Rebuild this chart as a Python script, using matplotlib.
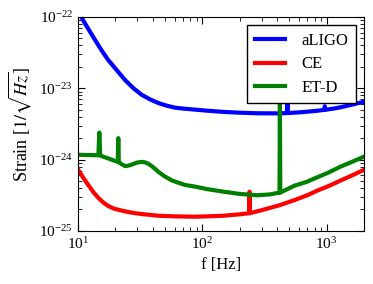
import matplotlib
matplotlib.use("Agg")
import matplotlib.pyplot as plt

plt.rcParams['font.family'] = ['Liberation Serif', 'DejaVu Serif']
plt.rcParams['mathtext.fontset'] = 'stix'
plt.rcParams['font.size'] = 11

# aLIGO
f_aligo = [10, 11, 12, 13.7, 15.5, 17.5, 20.5, 23.9, 28, 32.6, 38, 44.5, 52, 60.5, 70, 85,
           110, 148, 200, 276, 421, 478, 484, 490, 600, 698, 850, 960, 967, 975, 1100, 1285,
           1600, 2000]
h_aligo = [1.25e-22, 9.0e-23, 7.0e-23, 4.8e-23, 3.4e-23, 2.5e-23, 1.8e-23, 1.31e-23, 1.0e-23,
           8.1e-24, 7.0e-24, 6.2e-24, 5.7e-24, 5.35e-24, 5.2e-24, 5.05e-24, 4.85e-24, 4.67e-24,
           4.55e-24, 4.47e-24, 4.45e-24, 4.5e-24, 6.0e-24, 4.5e-24, 4.6e-24, 4.7e-24, 4.85e-24,
           5.0e-24, 5.6e-24, 5.0e-24, 5.15e-24, 5.4e-24, 5.9e-24, 6.5e-24]

# CE
f_ce = [10, 11, 12.1, 13.3, 14.6, 16, 17.5, 19.5, 21.8, 25, 28.8, 35, 44.5, 60, 86, 110, 148,
        200, 239, 240, 241, 300, 421, 550, 698, 850, 1018, 1300, 1600, 2000]
h_ce = [7.3e-25, 5.6e-25, 4.4e-25, 3.5e-25, 2.9e-25, 2.5e-25, 2.24e-25, 2.05e-25, 1.95e-25,
        1.85e-25, 1.77e-25, 1.7e-25, 1.63e-25, 1.6e-25, 1.58e-25, 1.6e-25, 1.63e-25, 1.71e-25,
        1.77e-25, 3.55e-25, 1.77e-25, 1.95e-25, 2.3e-25, 2.7e-25, 3.16e-25, 3.7e-25, 4.2e-25,
        5.1e-25, 6.0e-25, 7.2e-25]

# ET-D
f_et = [10, 12, 14.6, 14.85, 15.1, 16, 17.5, 19.5, 20.9, 21.1, 21.3, 22.5, 24, 26, 28, 30,
        32.6, 35, 37, 40, 44.5, 50, 57, 65, 73, 86, 110, 148, 200, 276, 350, 418, 421, 424,
        550, 698, 850, 1018, 1300, 1600, 2000]
h_et = [1.17e-24, 1.16e-24, 1.15e-24, 2.4e-24, 1.14e-24, 1.1e-24, 1.04e-24, 0.97e-24,
        0.93e-24, 2.0e-24, 0.92e-24, 0.86e-24, 0.81e-24, 0.83e-24, 0.87e-24, 0.91e-24,
        0.93e-24, 0.91e-24, 0.87e-24, 0.79e-24, 0.67e-24, 0.58e-24, 0.51e-24, 0.47e-24,
        0.44e-24, 0.42e-24, 0.385e-24, 0.355e-24, 0.33e-24, 0.316e-24, 0.325e-24, 0.345e-24,
        6.0e-24, 0.345e-24, 0.43e-24, 0.49e-24, 0.57e-24, 0.65e-24, 0.8e-24, 0.93e-24, 1.1e-24]

fig = plt.figure(figsize=(3.73, 2.84), dpi=100)
ax = fig.add_axes([0.209, 0.187, 0.767, 0.753])
ax.plot(f_aligo, h_aligo, color='blue', lw=3, label='aLIGO')
ax.plot(f_ce, h_ce, color='red', lw=3, label='CE')
ax.plot(f_et, h_et, color='green', lw=3, label='ET-D')
ax.set_xscale('log')
ax.set_yscale('log')
ax.set_xlim(10, 2000)
ax.set_ylim(1e-25, 1e-22)
ax.set_xlabel('f [Hz]', fontsize=12)
ax.set_ylabel(r'Strain [$1/\sqrt{Hz}$]', fontsize=13)
ax.tick_params(which='both', direction='in', top=True, right=True)
ax.tick_params(which='major', length=5)
ax.tick_params(which='minor', length=3)
leg = ax.legend(loc='upper right', fancybox=False, framealpha=1, edgecolor='black',
                handlelength=1.8, handletextpad=1.0, labelspacing=0.45, borderpad=0.45,
                fontsize=12)
leg.get_frame().set_linewidth(1.0)
fig.savefig('out.png', dpi=100)
